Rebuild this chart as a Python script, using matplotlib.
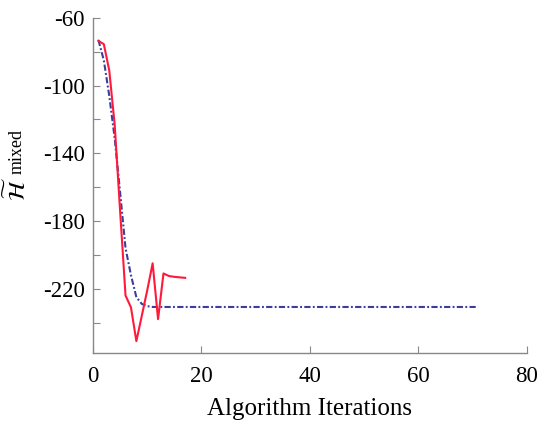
import matplotlib
matplotlib.use("Agg")
from matplotlib import pyplot as plt
from matplotlib.ticker import MultipleLocator

# values
red_x = list(range(1, 18))
red_y = [-73.5, -75.5, -91, -123, -174, -224, -231, -251, -236, -221,
         -205, -238, -211, -212.5, -213, -213.3, -213.6]

blue_x = list(range(1, 72))
blue_y = [-73, -85, -106, -131, -163, -196, -212, -225, -229, -230.3] + [-230.8] * 61

x_ticks = [0, 20, 40, 60, 80]
y_ticks = [-220, -180, -140, -100, -60]

plt.rcParams["font.family"] = ["Liberation Serif", "DejaVu Serif"]
plt.rcParams["mathtext.fontset"] = "stix"
plt.rcParams["axes.unicode_minus"] = False

W, H = 539, 422
fig = plt.figure(figsize=(W / 100, H / 100), dpi=100)
ax = fig.add_axes([0.1725, 0.1635, 0.805, 0.794])

ax.plot(blue_x, blue_y, color="#3a3f9e", lw=1.5, dashes=(3, 1.1, 0.9, 1.1))
ax.plot(red_x, red_y, color="#ff1a3c", lw=1.5)

ax.set_xlim(0, 80)
ax.set_ylim(-258, -60)
ax.set_xticks(x_ticks)
ax.set_yticks(y_ticks)
ax.yaxis.set_minor_locator(MultipleLocator(20))

for s in ["top", "right"]:
    ax.spines[s].set_visible(False)
for s in ["left", "bottom"]:
    ax.spines[s].set_color("#888888")
    ax.spines[s].set_linewidth(1.0)

ax.tick_params(which="both", direction="in", length=5, width=0.8,
               color="#888888", labelsize=16.5)
ax.tick_params(axis="y", pad=6)
ax.tick_params(axis="x", pad=9)

ax.set_xlabel("Algorithm Iterations", fontsize=18, labelpad=8)

# y label: tilde-H followed by a raised "mixed", built from two texts
fig.text(25 / W, 1 - 201 / H, r"$\widetilde{\mathcal{H}}$", fontsize=16.5,
         rotation=90, rotation_mode="anchor", ha="left", va="baseline")
fig.text(22 / W, 1 - 174 / H, "mixed", fontsize=13,
         rotation=90, rotation_mode="anchor", ha="left", va="baseline")

fig.savefig("out.png", dpi=100)
